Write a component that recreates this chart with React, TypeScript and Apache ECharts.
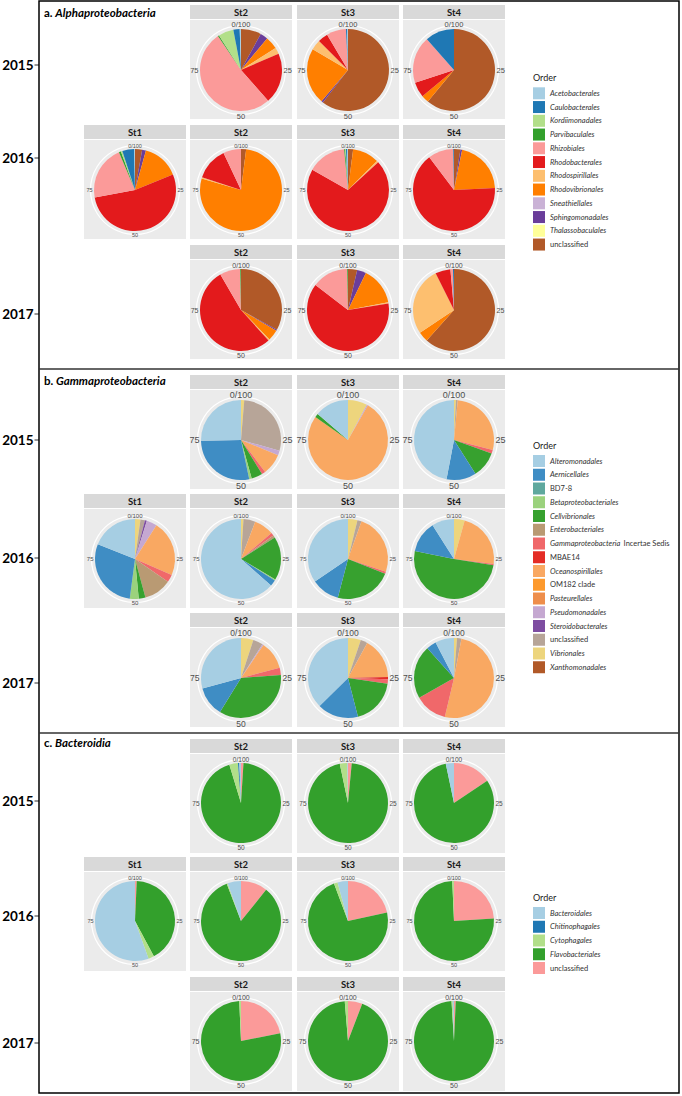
import React, { useEffect, useRef } from "react";
import * as echarts from "echarts";

// ---------- categories ----------
const years = ["2015", "2016", "2017"];
const thetaTicks = ["0/100", "25", "50", "75"];

const alphaOrders = [
  "Acetobacterales", "Caulobacterales", "Kordiimonadales", "Parvibaculales",
  "Rhizobiales", "Rhodobacterales", "Rhodospirillales", "Rhodovibrionales",
  "Sneathiellales", "Sphingomonadales", "Thalassobaculales", "unclassified",
];
const alphaColors = [
  "#A6CEE3", "#1F78B4", "#B2DF8A", "#33A02C", "#FB9A99", "#E31A1C",
  "#FDBF6F", "#FF7F00", "#CAB2D6", "#6A3D9A", "#FFFF99", "#B15928",
];

const gammaOrders = [
  "Alteromonadales", "Aernicellales", "BD7-8", "Betaproteobacteriales",
  "Cellvibrionales", "Enterobacteriales", "Gammaproteobacteria Incertae Sedis",
  "MBAE14", "Oceanospirillales", "OM182 clade", "Pasteurellales",
  "Pseudomonadales", "Steroidobacterales", "unclassified", "Vibrionales",
  "Xanthomonadales",
];
const gammaColors = [
  "#A6CEE3", "#3F8DC4", "#5FA89E", "#9BD27D", "#37A12F", "#B99A73",
  "#F0686A", "#E42D26", "#F9A862", "#FD9A2D", "#EE8E4B", "#C5A8D1",
  "#7E4DA1", "#B7A598", "#EDD57D", "#B15928",
];

const bactOrders = [
  "Bacteroidales", "Chitinophagales", "Cytophagales", "Flavobacteriales", "unclassified",
];
const bactColors = ["#A6CEE3", "#1F78B4", "#B2DF8A", "#33A02C", "#FB9A99"];

// ---------- values (% of reads, in legend order) ----------
// a. Alphaproteobacteria
const a15St2 = [0.5, 2.5, 6, 0.5, 52, 20, 2.5, 5, 0, 3, 0, 8];
const a15St3 = [0.3, 0.5, 0, 0, 7.7, 4, 4, 22.3, 0, 0.7, 0, 60.5];
const a15St4 = [0, 11.5, 0, 0, 18.5, 6, 0, 3, 0, 0, 0, 61];
const a16St1 = [0.3, 4.7, 0.6, 0.8, 21.5, 53.3, 0, 14.5, 0, 1.5, 0, 2.8];
const a16St2 = [0, 0, 0, 0, 7, 13, 0.5, 77.5, 0, 0, 0, 2];
const a16St3 = [0.3, 0.5, 0.3, 0.4, 15.3, 70, 0.7, 10.5, 0, 0, 0, 2];
const a16St4 = [0, 0.3, 0, 0, 10, 65.5, 0, 21, 0, 0.7, 0, 2.5];
const a17St2 = [0, 0, 0, 0.3, 8.1, 53.3, 0.5, 4.3, 0, 0.5, 0, 33];
const a17St3 = [0, 0, 0, 0.3, 14.3, 62.9, 0.5, 14.8, 0, 3.6, 0, 3.6];
const a17St4 = [0, 0.4, 0, 0, 1, 6, 27, 4, 0, 0, 0, 61.6];

// b. Gammaproteobacteria
const g15St2 = [25.3, 28, 0, 1, 4.5, 0, 1.5, 0, 8.5, 0, 0, 1.9, 0, 28, 1.3, 0];
const g15St3 = [13.7, 0, 0, 0, 1.5, 0, 0, 0, 76.5, 0, 0, 0.5, 0, 0, 7.8, 0];
const g15St4 = [47, 12, 0, 0, 10.5, 0, 1.5, 0, 27.5, 0, 0, 0, 0, 0.7, 0.8, 0];
const g16St1 = [19, 28.9, 0, 3.6, 2.7, 11.2, 3.1, 0, 22.5, 0, 0, 4.2, 0.8, 1.8, 2.2, 0];
const g16St2 = [63.5, 2.5, 0, 0.4, 17.6, 1, 1.2, 0, 8, 0, 0, 0, 0, 4.8, 1, 0];
const g16St3 = [34.5, 11.4, 0, 0, 23.1, 0, 0.8, 0, 24.7, 0, 0, 0, 0, 1.7, 3.8, 0];
const g16St4 = [9, 12.8, 0, 0, 50.7, 0, 0.5, 0, 22.7, 0, 0, 0, 0, 0, 4.3, 0];
const g17St2 = [29.2, 12, 0, 0, 35, 0, 2.9, 0, 11.4, 0, 0, 0.5, 0, 4, 5, 0];
const g17St3 = [37.4, 16.6, 0, 0, 18.7, 0, 1.8, 0.9, 16.6, 0, 0, 0, 0, 2.8, 5.2, 0];
const g17St4 = [7.6, 4, 0, 0, 21.6, 0, 13.1, 0, 50.7, 0, 0, 0, 0, 1.8, 1.2, 0];

// c. Bacteroidia
const b15St2 = [0.7, 0.5, 3.5, 94.3, 1];
const b15St3 = [0.3, 0, 3, 95.2, 1.5];
const b15St4 = [3.3, 0, 0, 81.1, 15.6];
const b16St1 = [55.5, 0, 2.3, 41.5, 0.7];
const b16St2 = [5.4, 0, 0.4, 83.4, 10.8];
const b16St3 = [4.2, 0, 1.5, 72.7, 21.6];
const b16St4 = [0, 0, 0.7, 75.3, 24];
const b17St2 = [0, 0, 0.7, 77.4, 21.9];
const b17St3 = [0, 0, 1.3, 92.9, 5.8];
const b17St4 = [0.5, 0, 0.5, 98.3, 0.7];

const alphaCells = [
  { row: 0, st: "St2", values: a15St2 }, { row: 0, st: "St3", values: a15St3 }, { row: 0, st: "St4", values: a15St4 },
  { row: 1, st: "St1", values: a16St1 }, { row: 1, st: "St2", values: a16St2 }, { row: 1, st: "St3", values: a16St3 }, { row: 1, st: "St4", values: a16St4 },
  { row: 2, st: "St2", values: a17St2 }, { row: 2, st: "St3", values: a17St3 }, { row: 2, st: "St4", values: a17St4 },
];
const gammaCells = [
  { row: 0, st: "St2", values: g15St2 }, { row: 0, st: "St3", values: g15St3 }, { row: 0, st: "St4", values: g15St4 },
  { row: 1, st: "St1", values: g16St1 }, { row: 1, st: "St2", values: g16St2 }, { row: 1, st: "St3", values: g16St3 }, { row: 1, st: "St4", values: g16St4 },
  { row: 2, st: "St2", values: g17St2 }, { row: 2, st: "St3", values: g17St3 }, { row: 2, st: "St4", values: g17St4 },
];
const bactCells = [
  { row: 0, st: "St2", values: b15St2 }, { row: 0, st: "St3", values: b15St3 }, { row: 0, st: "St4", values: b15St4 },
  { row: 1, st: "St1", values: b16St1 }, { row: 1, st: "St2", values: b16St2 }, { row: 1, st: "St3", values: b16St3 }, { row: 1, st: "St4", values: b16St4 },
  { row: 2, st: "St2", values: b17St2 }, { row: 2, st: "St3", values: b17St3 }, { row: 2, st: "St4", values: b17St4 },
];

// ---------- layout ----------
const colX: Record<string, number> = { St1: 84, St2: 190, St3: 297, St4: 403 };
const CELL_W = 102;
const STRIP_H = 14;

const panels = [
  {
    letter: "a. ", name: "Alphaproteobacteria", titleY: 12,
    orders: alphaOrders, colors: alphaColors, cells: alphaCells,
    rowTops: [5, 125, 245], centerOff: 65, radius: 41,
    labelSizes: [7.5, 5.5, 7], yearYs: [65, 158, 314],
    orderY: 77, legendY0: 93.3,
  },
  {
    letter: "b. ", name: "Gammaproteobacteria", titleY: 380,
    orders: gammaOrders, colors: gammaColors, cells: gammaCells,
    rowTops: [375, 494, 613], centerOff: 65, radius: 40,
    labelSizes: [9, 6, 8.5], yearYs: [440, 558, 683],
    orderY: 445, legendY0: 461,
  },
  {
    letter: "c. ", name: "Bacteroidia", titleY: 742,
    orders: bactOrders, colors: bactColors, cells: bactCells,
    rowTops: [739, 857, 977], centerOff: 64, radius: 40,
    labelSizes: [6.5, 5.5, 7], yearYs: [801, 916, 1043],
    orderY: 897, legendY0: 913,
  },
];

const nonItalic = new Set(["unclassified", "BD7-8", "MBAE14", "OM182 clade"]);
function legendText(name: string): string {
  if (nonItalic.has(name)) return `{n|${name}}`;
  if (name === "Gammaproteobacteria Incertae Sedis") return "{i|Gammaproteobacteria} {n|Incertae Sedis}";
  return `{i|${name}}`;
}

function buildOption() {
  const series: any[] = [];
  const graphics: any[] = [];
  const axisFont = "Liberation Sans, Arial, sans-serif";
  const headFont = "Lato, Open Sans, sans-serif";

  panels.forEach((p) => {
    // title
    graphics.push({
      type: "text", x: 44, y: p.titleY,
      style: {
        text: `{b|${p.letter}}{bi|${p.name}}`,
        verticalAlign: "middle",
        rich: {
          b: { fontSize: 11.5, fontWeight: "bold", fontFamily: headFont, fill: "#000", color: "#000" },
          bi: { fontSize: 11.5, fontWeight: "bold", fontStyle: "italic", fontFamily: headFont, fill: "#000", color: "#000" },
        },
      },
    });
    // year labels
    years.forEach((yr, i) => {
      graphics.push({
        type: "text", x: 33.5, y: p.yearYs[i],
        style: { text: yr, fontSize: 13.5, fontWeight: "bold", fontFamily: headFont, fill: "#000", align: "right", verticalAlign: "middle" },
      });
      graphics.push({
        type: "line", shape: { x1: 34.5, y1: p.yearYs[i], x2: 39, y2: p.yearYs[i] },
        style: { stroke: "#333", lineWidth: 1 },
      });
    });
    // cells
    p.cells.forEach((c) => {
      const x0 = colX[c.st];
      const top = p.rowTops[c.row];
      const cx = x0 + CELL_W / 2;
      const cy = top + p.centerOff;
      const r = p.radius;
      const fs = p.labelSizes[c.row];
      graphics.push({ type: "rect", shape: { x: x0, y: top, width: CELL_W, height: STRIP_H }, style: { fill: "#D9D9D9" } });
      graphics.push({
        type: "text", x: cx, y: top + STRIP_H / 2 + 0.5,
        style: { text: c.st, fontSize: 9.5, fontWeight: "bold", fontFamily: headFont, fill: "#1A1A1A", align: "center", verticalAlign: "middle" },
      });
      graphics.push({ type: "rect", shape: { x: x0, y: top + STRIP_H + 1, width: CELL_W, height: 99 }, style: { fill: "#EBEBEB" } });
      graphics.push({ type: "circle", shape: { cx, cy, r: r + 3.5 }, style: { fill: "none", stroke: "#FFFFFF", lineWidth: 1.2 } });
      const ts = { fontSize: fs, fontFamily: axisFont, fill: "#4D4D4D" };
      graphics.push({ type: "text", x: cx, y: cy - r - 0.5, style: { ...ts, text: thetaTicks[0], align: "center", verticalAlign: "bottom" } });
      graphics.push({ type: "text", x: cx + r + 1.5, y: cy, style: { ...ts, text: thetaTicks[1], align: "left", verticalAlign: "middle" } });
      graphics.push({ type: "text", x: cx, y: cy + r + 1, style: { ...ts, text: thetaTicks[2], align: "center", verticalAlign: "top" } });
      graphics.push({ type: "text", x: cx - r - 1.5, y: cy, style: { ...ts, text: thetaTicks[3], align: "right", verticalAlign: "middle" } });

      const data = p.orders
        .map((name, i) => ({ name, value: c.values[i], itemStyle: { color: p.colors[i] } }))
        .filter((d) => d.value > 0)
        .reverse();
      series.push({
        type: "pie",
        center: [cx, cy],
        radius: r,
        startAngle: 90,
        clockwise: true,
        data,
        label: { show: false },
        labelLine: { show: false },
        emphasis: { disabled: true },
        silent: true,
        itemStyle: { borderWidth: 0 },
        z: 3,
      });
    });
    // legend
    graphics.push({
      type: "text", x: 533, y: p.orderY,
      style: { text: "Order", fontSize: 9, fontFamily: headFont, fill: "#1A1A1A", verticalAlign: "middle" },
    });
    p.orders.forEach((name, i) => {
      const y = p.legendY0 + i * 13.75;
      graphics.push({ type: "rect", shape: { x: 533, y: y - 6, width: 12, height: 12 }, style: { fill: p.colors[i] } });
      graphics.push({
        type: "text", x: 550, y,
        style: {
          text: legendText(name),
          verticalAlign: "middle",
          rich: {
            i: { fontSize: 7.5, fontStyle: "italic", fontFamily: headFont, fill: "#333", color: "#333" },
            n: { fontSize: 7.5, fontFamily: headFont, fill: "#333", color: "#333" },
          },
        },
      });
    });
  });

  // frame
  graphics.push({ type: "rect", shape: { x: 39, y: 1, width: 640, height: 1092 }, style: { fill: "none", stroke: "#000", lineWidth: 1.5 } });
  graphics.push({ type: "line", shape: { x1: 39, y1: 369, x2: 679, y2: 369 }, style: { stroke: "#333", lineWidth: 1.5 } });
  graphics.push({ type: "line", shape: { x1: 39, y1: 733, x2: 679, y2: 733 }, style: { stroke: "#333", lineWidth: 1.5 } });

  return {
    animation: false,
    backgroundColor: "#FFFFFF",
    graphic: { elements: graphics },
    series,
  };
}

export default function App() {
  const ref = useRef<HTMLDivElement>(null);
  useEffect(() => {
    document.body.style.margin = "0";
    if (!ref.current) return;
    const chart = echarts.init(ref.current, undefined, { renderer: "svg" });
    chart.setOption(buildOption() as any);
    return () => chart.dispose();
  }, []);
  return <div ref={ref} style={{ width: 682, height: 1096 }} />;
}
